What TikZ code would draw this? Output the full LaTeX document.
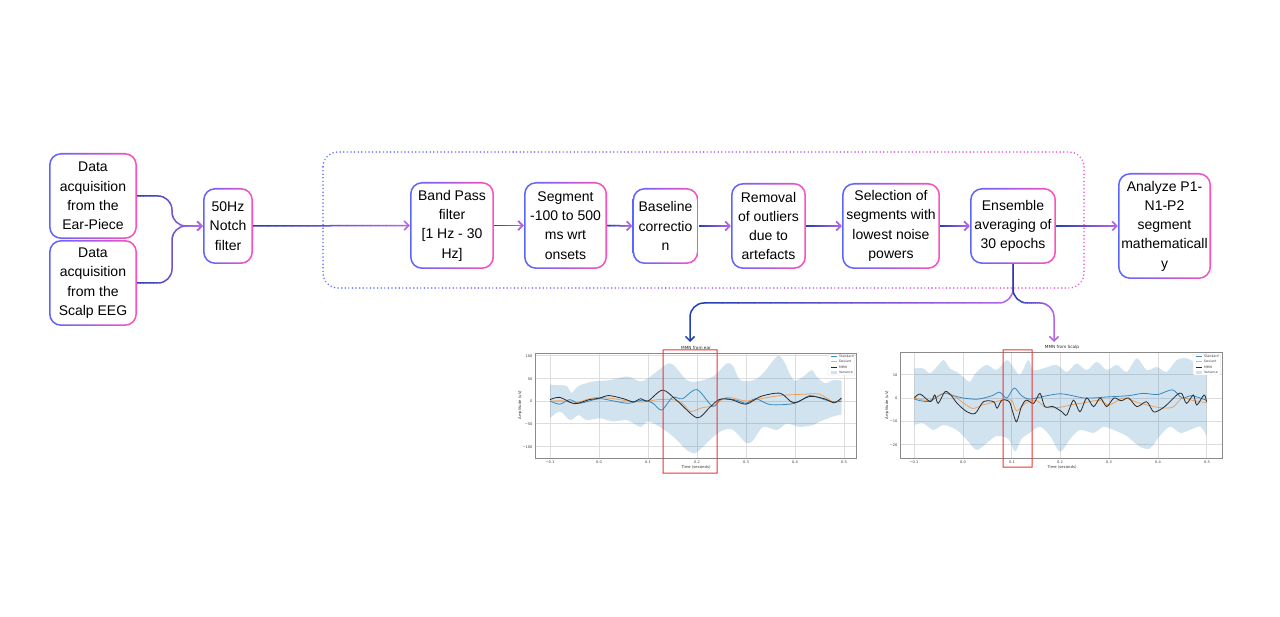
\documentclass[tikz,border=0pt]{standalone}
\usepackage{fontspec}
\setmainfont{Liberation Sans}
\newfontfamily\plotfont{DejaVu Sans}
\usetikzlibrary{arrows.meta}
\definecolor{bblue}{HTML}{5A66FF}
\definecolor{bpink}{HTML}{FF50C0}
\definecolor{cdark}{HTML}{2440B0}
\definecolor{cpurple}{HTML}{B466E6}
\definecolor{dleft}{HTML}{5C72FF}
\definecolor{dright}{HTML}{EE55D6}
\definecolor{mplblue}{HTML}{1F77B4}
\definecolor{mplorange}{HTML}{FF7F0E}
\definecolor{mmnc}{HTML}{2A2A2A}
\definecolor{gridc}{HTML}{DDDDDD}
\definecolor{framec}{HTML}{8A8A8A}
\definecolor{redc}{RGB}{238,51,51}
% gradient stroke: #1 left x, #2 right x, #3 style, #4 left colour, #5 right colour, #6 path
\newcommand\gstroke[6]{%
  \foreach \gk in {0,...,19}{%
    \pgfmathsetmacro\gxa{\gk==0 ? -100 : #1+(#2-#1)*\gk/20-0.3}%
    \pgfmathsetmacro\gxb{\gk==19 ? 1400 : #1+(#2-#1)*(\gk+1)/20+0.3}%
    \pgfmathsetmacro\gpc{100-\gk*100/19}%
    \begin{scope}
      \clip (\gxa,-100) rectangle (\gxb,800);
      \draw[#3, color=#4!\gpc!#5] #6;
    \end{scope}}}
\begin{document}
\begin{tikzpicture}[x=1pt,y=-1pt,
  gbox/.style={rounded corners=12pt, inner sep=0pt, align=center,
    font=\fontsize{14}{19.3}\selectfont,
    path picture={
      \shade[sharp corners, left color=bblue, right color=bpink]
        (path picture bounding box.south west) rectangle (path picture bounding box.north east);
      \fill[white, rounded corners=10.3pt]
        ([shift={(1.7pt,1.7pt)}]path picture bounding box.south west) rectangle
        ([shift={(-1.7pt,-1.7pt)}]path picture bounding box.north east);
    }},
  conn/.style={line width=1.5pt, rounded corners=14pt,
    -{Straight Barb[length=4.5pt,width=9pt]}},
  dotbox/.style={rounded corners=15pt, line width=1.7pt,
    dash pattern=on 0pt off 3.6pt, line cap=round},
  gridl/.style={draw=gridc, line width=0.5pt},
  framel/.style={draw=framec, line width=0.8pt},
  varf/.style={fill=mplblue, fill opacity=0.2},
  stdl/.style={draw=mplblue, line width=0.8pt, draw opacity=0.85},
  devl/.style={draw=mplorange, line width=0.8pt, draw opacity=0.65},
  mmnl/.style={draw=mmnc, line width=0.8pt},
  redframe/.style={fill=redc, even odd rule},
  ticklab/.style={font=\plotfont\fontsize{3.6}{4}\selectfont, inner sep=0.3pt, text=black!75},
  axlab/.style={font=\plotfont\fontsize{3.8}{4.5}\selectfont, inner sep=0.3pt, text=black!80},
  ttl/.style={font=\plotfont\fontsize{4.2}{5}\selectfont, inner sep=0.3pt, text=black!85},
  leg/.style={font=\plotfont\fontsize{3.2}{4}\selectfont, inner sep=0.3pt, text=black!75, anchor=west},
  legbox/.style={draw=gridc, fill=white, line width=0.4pt, rounded corners=1pt}
]
\useasboundingbox (0,0) rectangle (1280,617);
\fill[white] (0,0) rectangle (1280,617);

% dotted group box
\gstroke{323}{1084}{dotbox}{dleft}{dright}{(323,152) rectangle (1084,288)}

% boxes
\node[gbox, minimum width=88pt, minimum height=86pt] (ear) at (93,196) {Data\\acquisition\\from the\\Ear-Piece};
\node[gbox, minimum width=88pt, minimum height=86pt] (scalp) at (93,283) {Data\\acquisition\\from the\\Scalp EEG};
\node[gbox, minimum width=50pt, minimum height=76pt] (notch) at (228,226) {50Hz\\Notch\\filter};
\node[gbox, minimum width=84pt, minimum height=87pt] (band) at (452,225.5) {Band Pass\\filter\\{[}1 Hz - 30\\Hz{]}};
\node[gbox, minimum width=83pt, minimum height=87pt] (seg) at (565.5,225.5) {Segment\\-100 to 500\\ms wrt\\onsets};
\node[gbox, minimum width=66pt, minimum height=76pt] (base) at (665.5,226) {Baseline\\correctio\\n};
\node[gbox, minimum width=75pt, minimum height=86pt] (rem) at (768.5,226) {Removal\\of outliers\\due to\\artefacts};
\node[gbox, minimum width=98pt, minimum height=86pt] (sel) at (891,226) {Selection of\\segments with\\lowest noise\\powers};
\node[gbox, minimum width=86pt, minimum height=76pt] (ens) at (1013,226) {Ensemble\\averaging of\\30 epochs};
\node[gbox, minimum width=93pt, minimum height=106pt] (ana) at (1164.5,226) {Analyze P1-\\N1-P2\\segment\\mathematicall\\y};

\coordinate (earin) at (690,342);
\coordinate (scalpin) at (1054,342);

% connectors
\gstroke{137}{203}{conn}{cdark}{cpurple}{(ear.east) -- (172,196) -- (172,226) -- (notch.west)}
\gstroke{137}{203}{conn}{cdark}{cpurple}{(scalp.east) -- (172,283) -- (172,226) -- (notch.west)}
\gstroke{253}{410}{conn}{cdark}{cpurple}{(notch.east) -- (band.west)}
\gstroke{494}{524}{conn}{cdark}{cpurple}{(band.east) -- (seg.west)}
\gstroke{607}{632}{conn}{cdark}{cpurple}{(seg.east) -- (base.west)}
\gstroke{698}{731}{conn}{cdark}{cpurple}{(base.east) -- (rem.west)}
\gstroke{806}{842}{conn}{cdark}{cpurple}{(rem.east) -- (sel.west)}
\gstroke{940}{970}{conn}{cdark}{cpurple}{(sel.east) -- (ens.west)}
\gstroke{1056}{1118}{conn}{cdark}{cpurple}{(ens.east) -- (ana.west)}
\gstroke{690}{1013}{conn}{cdark}{cpurple}{(ens.south) -- (1013,303) -- (690,303) -- (earin)}
\gstroke{1013}{1054}{conn}{cdark}{cpurple}{(ens.south) -- (1013,303) -- (1054,303) -- (scalpin)}

% ---------- left plot: MMN from ear ----------
\begin{scope}[shift={(599,401)},x=490pt,y=0.454pt]
  \foreach \tv in {-0.1,0.0,0.1,0.2,0.3,0.4,0.5} \draw[gridl] (\tv,-125.6) -- (\tv,105.7);
  \foreach \av in {-100,-50,0,50,100} \draw[gridl] (-0.1306,\av) -- (0.5245,\av);
  \fill[varf] plot[smooth,tension=0.5] coordinates {(-0.1,36) (-0.085,35) (-0.066,33) (-0.056,18) (-0.042,33) (-0.012,43) (0.022,46) (0.057,54) (0.084,43) (0.1,50) (0.118,65) (0.141,83) (0.155,76) (0.179,46) (0.199,43) (0.233,54) (0.261,83) (0.274,76) (0.288,46) (0.315,46) (0.335,61) (0.363,98) (0.376,90) (0.397,46) (0.417,54) (0.434,68) (0.444,54) (0.461,39) (0.478,46) (0.495,45)}
    -- plot[smooth,tension=0.5] coordinates {(0.495,-30) (0.478,-34) (0.451,-45) (0.437,-53) (0.41,-57) (0.383,-50) (0.363,-64) (0.335,-57) (0.315,-86) (0.301,-93) (0.274,-64) (0.254,-64) (0.233,-79) (0.213,-100) (0.196,-115) (0.179,-108) (0.152,-79) (0.124,-57) (0.1,-45) (0.084,-57) (0.057,-42) (0.029,-45) (0.002,-38) (-0.025,-42) (-0.042,-31) (-0.059,-42) (-0.08,-23) (-0.1,-38)} -- cycle;
  \draw[stdl] plot[smooth,tension=0.5] coordinates {(-0.1,0) (-0.08,-7) (-0.06,3) (-0.04,-5) (0.0,5) (0.03,0) (0.06,-5) (0.09,2) (0.11,-5) (0.128,-20) (0.15,8) (0.17,5) (0.2,25) (0.232,-12) (0.25,5) (0.28,2) (0.3,-5) (0.32,5) (0.35,-8) (0.4,-5) (0.43,12) (0.46,3) (0.48,-2) (0.495,0)};
  \draw[devl] plot[smooth,tension=0.5] coordinates {(-0.1,0) (-0.07,0) (-0.05,-5) (-0.02,5) (0.0,8) (0.03,5) (0.06,0) (0.09,-2) (0.12,3) (0.15,3) (0.17,-5) (0.187,-23) (0.21,-15) (0.235,-10) (0.26,8) (0.3,0) (0.33,5) (0.37,12) (0.42,15) (0.45,15) (0.48,-3) (0.495,5)};
  \draw[mmnl] plot[smooth,tension=0.5] coordinates {(-0.1,3) (-0.08,8) (-0.05,-6) (-0.02,3) (0.0,6) (0.02,12) (0.05,5) (0.07,-2) (0.085,5) (0.1,0) (0.13,24) (0.16,0) (0.2,-37) (0.225,-15) (0.245,3) (0.27,3) (0.3,-7) (0.33,10) (0.37,17) (0.397,-4) (0.43,10) (0.46,5) (0.48,-4) (0.495,7)};
  \draw[framel] (-0.1306,-125.6) rectangle (0.5245,105.7);
\end{scope}
\draw[legbox] (828,354.5) rectangle (854.5,375);
\draw[stdl] (830.5,356.5) -- (837,356.5);
\draw[devl] (830.5,361.8) -- (837,361.8);
\draw[mmnl] (830.5,367) -- (837,367);
\fill[varf] (830.5,371) rectangle (837,373.6);
\node[leg] (ll1) at (838.5,356.5) {Standard};
\node[leg] (ll2) at (838.5,361.8) {Deviant};
\node[leg] (ll3) at (838.5,367) {MMN};
\node[leg] (ll4) at (838.5,372.3) {Variance};
\node[ttl] (lt) at (696,347.5) {MMN from ear};
\foreach \xv/\lab [count=\i] in {550/−0.1,599/0.0,648/0.1,697/0.2,746/0.3,795/0.4,844/0.5}
  \node[ticklab] (lxt\i) at (\xv,462.5) {\lab};
\foreach \yv/\lab [count=\i] in {356/100,379/50,401/0,424/−50,447/−100}
  \node[ticklab, anchor=east] (lyt\i) at (533,\yv) {\lab};
\node[axlab, rotate=90] (lya) at (520,405) {Amplitude (uV)};
\node[axlab] (lxa) at (696,467.8) {Time (seconds)};

% ---------- right plot: MMN from Scalp ----------
\begin{scope}[shift={(963,398)},x=487pt,y=2.33pt]
  \foreach \tv in {-0.1,0.0,0.1,0.2,0.3,0.4,0.5} \draw[gridl] (\tv,-25.75) -- (\tv,19.7);
  \foreach \av in {-20,-10,0,10} \draw[gridl] (-0.1294,\av) -- (0.5318,\av);
  \fill[varf] plot[smooth,tension=0.5] coordinates {(-0.1,12.7) (-0.082,12.7) (-0.068,10.6) (-0.054,13.3) (-0.04,16.3) (-0.027,12.7) (-0.013,11.2) (0.0,9.1) (0.014,7) (0.028,11.2) (0.049,14.2) (0.069,12) (0.09,16.3) (0.103,13.3) (0.117,10) (0.134,16.3) (0.144,12) (0.165,12.7) (0.192,14.2) (0.213,11.2) (0.233,14.8) (0.254,12) (0.275,15.5) (0.295,12) (0.316,14.2) (0.336,11.2) (0.357,17) (0.377,12) (0.398,13.3) (0.418,11.2) (0.439,16.3) (0.459,17) (0.48,14.8) (0.5,12.7)}
    -- plot[smooth,tension=0.5] coordinates {(0.5,-16.3) (0.487,-12.3) (0.466,-13.7) (0.446,-15) (0.425,-12.3) (0.404,-16.3) (0.384,-21.6) (0.363,-20.9) (0.336,-16.3) (0.309,-13.7) (0.288,-12.3) (0.268,-15) (0.24,-13.7) (0.22,-17.6) (0.199,-23) (0.179,-16.3) (0.158,-12.3) (0.137,-15) (0.12,-17.6) (0.107,-23) (0.093,-17.6) (0.069,-16.3) (0.049,-19.3) (0.028,-22.3) (0.008,-18) (-0.013,-13.7) (-0.04,-11.6) (-0.061,-13.7) (-0.082,-10.9) (-0.1,-11.6)} -- cycle;
  \draw[stdl] plot[smooth,tension=0.5] coordinates {(-0.1,-0.5) (-0.07,-1.5) (-0.04,2) (-0.02,1) (0.0,0) (0.03,-0.5) (0.06,1) (0.075,2.5) (0.09,0) (0.105,4.3) (0.12,1) (0.135,-0.5) (0.15,0) (0.2,1.8) (0.25,0) (0.3,0.5) (0.34,1) (0.37,2) (0.4,1.5) (0.43,3.5) (0.45,0) (0.47,1) (0.5,-1)};
  \draw[devl] plot[smooth,tension=0.5] coordinates {(-0.1,0) (-0.07,-1) (-0.04,2) (-0.02,1) (0.0,-2) (0.02,-4.5) (0.04,-3) (0.06,-2) (0.08,-1) (0.1,-1) (0.11,-5.5) (0.13,-2) (0.15,-1) (0.17,-4) (0.2,-4) (0.22,-3) (0.25,-2) (0.28,-1) (0.3,-3) (0.33,0) (0.36,-2) (0.4,-4) (0.43,-4) (0.45,0) (0.47,-1) (0.5,-2)};
  \draw[mmnl] plot[smooth,tension=0.5] coordinates {(-0.1,0) (-0.088,1.7) (-0.067,-1.6) (-0.058,1.3) (-0.051,-2.3) (-0.037,2.7) (-0.025,1.3) (-0.012,-2.3) (0.008,-5.9) (0.025,-6.6) (0.042,-1.6) (0.063,-1.6) (0.07,-4.4) (0.08,-0.9) (0.095,-1.6) (0.102,-5.9) (0.11,-10.2) (0.12,-3.7) (0.13,-0.9) (0.145,-2.3) (0.158,2) (0.168,-3.7) (0.185,-3.7) (0.203,-5.9) (0.213,-7.3) (0.227,-0.9) (0.24,-5.9) (0.254,0) (0.268,-3.7) (0.282,0) (0.295,-3.7) (0.31,0) (0.325,-1.2) (0.34,0) (0.357,-3.7) (0.377,-1.6) (0.391,-5.9) (0.405,-5) (0.418,-3) (0.439,1.3) (0.449,2) (0.459,-2.3) (0.473,1.3) (0.48,-3) (0.495,1.3) (0.5,-1.6)};
  \draw[framel] (-0.1294,-25.75) rectangle (0.5318,19.7);
\end{scope}
\draw[legbox] (1193,354.5) rectangle (1220.5,375);
\draw[stdl] (1195.5,356.5) -- (1202,356.5);
\draw[devl] (1195.5,361.8) -- (1202,361.8);
\draw[mmnl] (1195.5,367) -- (1202,367);
\fill[varf] (1195.5,371) rectangle (1202,373.6);
\node[leg] (rl1) at (1203.5,356.5) {Standard};
\node[leg] (rl2) at (1203.5,361.8) {Deviant};
\node[leg] (rl3) at (1203.5,367) {MMN};
\node[leg] (rl4) at (1203.5,372.3) {Variance};
\node[ttl] (rt) at (1062,347.5) {MMN from Scalp};
\foreach \xv/\lab [count=\i] in {914/−0.1,963/0.0,1012/0.1,1060/0.2,1109/0.3,1158/0.4,1207/0.5}
  \node[ticklab] (rxt\i) at (\xv,462.5) {\lab};
\foreach \yv/\lab [count=\i] in {375/10,398/0,421/−10,445/−20}
  \node[ticklab, anchor=east] (ryt\i) at (898,\yv) {\lab};
\node[axlab, rotate=90] (rya) at (887,405) {Amplitude (uV)};
\node[axlab] (rxa) at (1062,467.5) {Time (seconds)};

% red highlight rectangles (drawn as filled frames)
\fill[redframe] (662.5,349.5) rectangle (717.5,473.5) (663.5,350.5) rectangle (716.5,472.5);
\fill[redframe] (1002.5,349.5) rectangle (1032.5,467.5) (1003.5,350.5) rectangle (1031.5,466.5);
\end{tikzpicture}
\end{document}
